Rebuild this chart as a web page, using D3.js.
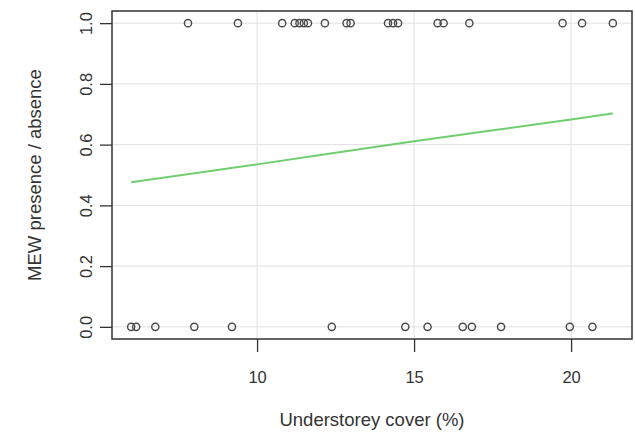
<!DOCTYPE html>
<html>
<head>
<meta charset="utf-8">
<script src="https://cdn.jsdelivr.net/npm/d3@7"></script>
<style>
  body { margin: 0; background: #fff; }
  text { font-family: "Liberation Sans", Arial, sans-serif; fill: #333; }
</style>
</head>
<body>
<div id="chart"></div>
<script>
// observed understorey cover (%) for sites with MEW present (1) and absent (0)
const presentCover = [7.80, 9.39, 10.80, 11.20, 11.35, 11.49, 11.62, 12.16, 12.85, 12.98,
                      14.17, 14.33, 14.49, 15.75, 15.94, 16.76, 19.73, 20.35, 21.33];
const absentCover = [5.99, 6.15, 6.76, 8.00, 9.20, 12.38, 14.72, 15.43, 16.55, 16.84,
                     17.77, 19.96, 20.68];

// fitted probability curve
const fitCover = [5.99, 10, 15, 20, 21.33];
const fitProb = [0.476, 0.535, 0.611, 0.683, 0.703];

const xTicks = [10, 15, 20];
const yTicks = [0, 0.2, 0.4, 0.6, 0.8, 1.0];

const width = 635, height = 435;
const margin = {top: 11, right: 3, bottom: 96, left: 112};

const svg = d3.select("#chart")
    .append("svg")
    .attr("width", width)
    .attr("height", height);

const x = d3.scaleLinear().domain([5.38, 21.94]).range([margin.left, width - margin.right]);
const y = d3.scaleLinear().domain([-0.04, 1.04]).range([height - margin.bottom, margin.top]);

// grid lines
const grid = svg.append("g").attr("stroke", "#e0e0e0").attr("stroke-width", 1);
grid.selectAll("line.v")
    .data(xTicks)
    .join("line")
    .attr("class", "v")
    .attr("x1", d => x(d)).attr("x2", d => x(d))
    .attr("y1", y.range()[1]).attr("y2", y.range()[0]);
grid.selectAll("line.h")
    .data(yTicks)
    .join("line")
    .attr("class", "h")
    .attr("x1", x.range()[0]).attr("x2", x.range()[1])
    .attr("y1", d => y(d)).attr("y2", d => y(d));

// axes
const xAxis = svg.append("g")
    .attr("transform", "translate(0," + (height - margin.bottom) + ")")
    .call(d3.axisBottom(x).tickValues(xTicks).tickFormat(d3.format("d")).tickSize(13).tickPadding(19));
xAxis.select(".domain").remove();
xAxis.selectAll("line").attr("stroke", "#333").attr("stroke-width", 1.3);
xAxis.selectAll("text").style("font-size", "16.5px").attr("fill", "#333");

const yAxis = svg.append("g")
    .attr("transform", "translate(" + margin.left + ",0)")
    .call(d3.axisLeft(y).tickValues(yTicks).tickFormat(d3.format(".1f")).tickSize(12));
yAxis.select(".domain").remove();
yAxis.selectAll("line").attr("stroke", "#333").attr("stroke-width", 1.3);
yAxis.selectAll("text")
    .style("font-size", "16.5px")
    .attr("fill", "#333")
    .attr("text-anchor", "middle")
    .attr("x", 0).attr("dy", 0)
    .attr("transform", "translate(-26,0) rotate(-90)")
    .attr("y", 0)
    .attr("dominant-baseline", "central");

// plot box
svg.append("rect")
    .attr("x", x.range()[0]).attr("y", y.range()[1])
    .attr("width", x.range()[1] - x.range()[0])
    .attr("height", y.range()[0] - y.range()[1])
    .attr("fill", "none")
    .attr("stroke", "#333")
    .attr("stroke-width", 1.5);

// fitted line
const fit = fitCover.map((c, i) => ({c: c, p: fitProb[i]}));
svg.append("path")
    .datum(fit)
    .attr("fill", "none")
    .attr("stroke", "#6fcf6f")
    .attr("stroke-width", 2)
    .attr("d", d3.line().curve(d3.curveMonotoneX).x(d => x(d.c)).y(d => y(d.p)));

// observations
const pts = presentCover.map(c => ({c: c, v: 1})).concat(absentCover.map(c => ({c: c, v: 0})));
svg.append("g")
    .selectAll("circle")
    .data(pts)
    .join("circle")
    .attr("cx", d => x(d.c))
    .attr("cy", d => y(d.v))
    .attr("r", 3.6)
    .attr("fill", "none")
    .attr("stroke", "#4a4a4a")
    .attr("stroke-width", 1.4);

// axis titles
svg.append("text")
    .attr("x", (x.range()[0] + x.range()[1]) / 2)
    .attr("y", 426)
    .attr("text-anchor", "middle")
    .style("font-size", "18.5px")
    .text("Understorey cover (%)");

svg.append("text")
    .attr("transform", "translate(41," + (y.range()[0] + y.range()[1]) / 2 + ") rotate(-90)")
    .attr("text-anchor", "middle")
    .style("font-size", "18.5px")
    .text("MEW presence / absence");
</script>
</body>
</html>
